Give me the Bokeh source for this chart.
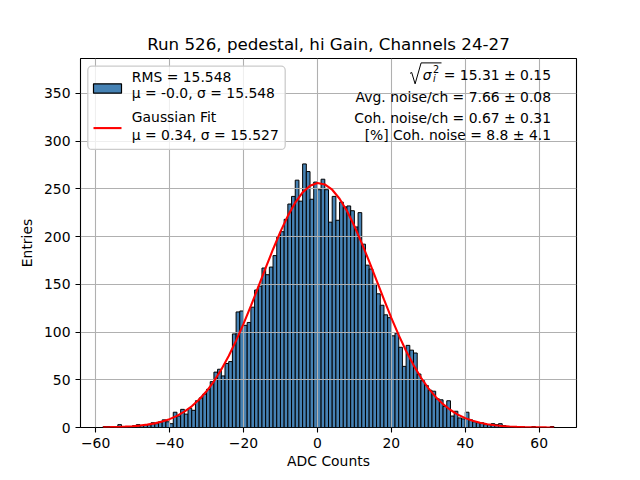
import numpy as np
from bokeh.plotting import figure
from bokeh.models import Range1d, FixedTicker, Label, BoxAnnotation
from bokeh.embed import file_html
from bokeh.resources import INLINE

# ---------------- data ----------------
bin_first_edge = -58
bin_width = 1
counts = [
    1, 1, 0, 1, 3, 1, 1, 1, 2, 3,                       # -58 .. -49
    2, 3, 3, 5, 4, 6, 8, 6, 4, 16,                      # -48 .. -39
    12, 19, 14, 20, 18, 28, 31, 35, 40, 48,             # -38 .. -29
    58, 61, 54, 67, 69, 98, 121, 122, 107, 110,         # -28 .. -19
    126, 144, 148, 167, 160, 168, 180, 200, 205, 218,   # -18 .. -9
    234, 242, 259, 237, 276, 268, 239, 257, 249, 260,   # -8 .. 1
    249, 215, 242, 217, 236, 231, 232, 227, 210, 225,   # 2 .. 11
    192, 170, 166, 150, 140, 128, 118, 115, 96, 99,     # 12 .. 21
    84, 64, 86, 81, 78, 56, 49, 44, 39, 38,             # 22 .. 31
    30, 29, 22, 28, 12, 17, 10, 9, 16, 8,               # 32 .. 41
    6, 5, 5, 3, 3, 4, 3, 4, 2, 1,                       # 42 .. 51
    1, 1, 0, 1, 0, 0, 1, 0, 0, 0, 0, 1,                 # 52 .. 63
]

fit_x = [-58, -56, -54, -52, -50, -48, -46, -44, -42, -40, -38, -36, -34, -32,
         -30, -28, -26, -24, -22, -20, -18, -16, -14, -12, -10, -8, -6, -4, -2,
         0, 2, 4, 6, 8, 10, 12, 14, 16, 18, 20, 22, 24, 26, 28, 30, 32, 34, 36,
         38, 40, 42, 44, 46, 48, 50, 52, 54, 56, 58, 60, 62, 64]
fit_y = [0.22, 0.35, 0.56, 0.87, 1.34, 2.01, 2.98, 4.34, 6.22, 8.76, 12.14,
         16.55, 22.18, 29.25, 37.94, 48.40, 60.72, 74.93, 90.93, 108.55, 127.43,
         147.16, 167.11, 186.67, 205.09, 221.61, 235.52, 246.19, 253.11, 255.94,
         254.54, 248.99, 239.54, 226.67, 210.95, 193.11, 173.85, 153.95, 134.07,
         114.84, 96.75, 80.17, 65.34, 52.38, 41.29, 32.02, 24.41, 18.32, 13.51,
         9.81, 7.00, 4.91, 3.39, 2.30, 1.54, 1.01, 0.65, 0.42, 0.26, 0.16, 0.10,
         0.06]

x_ticks = [-60, -40, -20, 0, 20, 40, 60]
y_ticks = [0, 50, 100, 150, 200, 250, 300, 350]

title_text = "Run 526, pedestal, hi Gain, Channels 24-27"
legend_hist = ["RMS = 15.548", "μ = -0.0, σ = 15.548"]
legend_fit = ["Gaussian Fit", "μ = 0.34, σ = 15.527"]
info_first_value = "= 15.31 ± 0.15"
info_lines = ["Avg. noise/ch = 7.66 ± 0.08",
              "Coh. noise/ch = 0.67 ± 0.31",
              "[%] Coh. noise = 8.8 ± 4.1"]

# ---------------- figure ----------------
FONT = "DejaVu Sans"
FS = "13.9px"
counts_arr = np.array(counts)
edges = bin_first_edge + bin_width * np.arange(len(counts) + 1)

X0, X1 = -64.1, 70.1
Y1 = 1.4 * counts_arr.max()

p = figure(width=640, height=480, x_range=Range1d(X0, X1), y_range=Range1d(0, Y1),
           output_backend="svg", toolbar_location=None, title=title_text,
           min_border_left=80, min_border_right=64, min_border_top=58,
           min_border_bottom=53)
p.background_fill_color = "white"
p.border_fill_color = "white"
p.outline_line_color = "black"
p.outline_line_width = 1.1
p.outline_line_alpha = 1.0

p.title.text_font = FONT
p.title.text_font_size = "16.7px"
p.title.text_font_style = "normal"
p.title.align = "center"
p.title.text_color = "black"
p.title.standoff = 9

p.xaxis.ticker = FixedTicker(ticks=x_ticks)
p.yaxis.ticker = FixedTicker(ticks=y_ticks)
p.xaxis.major_label_overrides = {t: (("\u2212" + str(-t)) if t < 0 else str(t)) for t in x_ticks}
for ax in (p.xaxis, p.yaxis):
    ax.axis_line_color = None
    ax.major_tick_line_color = "black"
    ax.major_tick_line_width = 1.1
    ax.major_tick_out = 5
    ax.major_tick_in = 0
    ax.minor_tick_line_color = None
    ax.major_label_text_font = FONT
    ax.major_label_text_font_size = FS
    ax.major_label_text_color = "black"
    ax.major_label_standoff = 5
    ax.axis_label_text_font = FONT
    ax.axis_label_text_font_size = FS
    ax.axis_label_text_font_style = "normal"
    ax.axis_label_text_color = "black"
p.xaxis.axis_label_standoff = 2
p.yaxis.axis_label_standoff = 6
p.xaxis.axis_label = "ADC Counts"
p.yaxis.axis_label = "Entries"

p.grid.grid_line_color = "#b0b0b0"
p.grid.grid_line_width = 1.1

# histogram bars (below the grid, like matplotlib)
p.quad(left=edges[:-1], right=edges[1:], bottom=0, top=counts_arr,
       fill_color="#4682b4", line_color="black", line_width=1.0, level="image")

# gaussian fit curve
p.line(fit_x, fit_y, line_color="red", line_width=2.1)

# ---------------- annotations (placed by frame pixel position) ----------------
FL, FR, FT, FB = 80.0, 576.0, 57.6, 427.2


def dx(px):
    return X0 + (px - FL) * (X1 - X0) / (FR - FL)


def dy(py):
    return (FB - py) * Y1 / (FB - FT)


# legend box
p.add_layout(BoxAnnotation(left=dx(87.3), right=dx(284.7), bottom=dy(148.7), top=dy(65.3),
                           fill_color="white", fill_alpha=0.8, line_color="#cccccc",
                           line_width=1.3, line_alpha=1.0, border_radius=4))
p.add_layout(BoxAnnotation(left=dx(93), right=dx(121), bottom=dy(92.3), top=dy(83),
                           fill_color="#4682b4", fill_alpha=1.0, line_color="black",
                           line_width=1.2, line_alpha=1.0))
p.segment(x0=[dx(93)], y0=[dy(127.3)], x1=[dx(121)], y1=[dy(127.3)],
          line_color="red", line_width=2.1, level="overlay")

for txt, py in zip(legend_hist + legend_fit, [76.3, 92.5, 116.3, 134.0]):
    p.add_layout(Label(x=dx(131.3), y=dy(py), text=txt, text_font=FONT,
                       text_font_size=FS, text_baseline="middle", text_align="left",
                       text_color="black"))

# info text block (top right)
p.add_layout(Label(x=dx(550.5), y=dy(73.7), text=info_first_value, text_font=FONT,
                   text_font_size=FS, text_baseline="middle", text_align="right",
                   text_color="black"))
p.add_layout(Label(x=dx(426.7), y=dy(74.5), text="σ", text_font=FONT,
                   text_font_size=FS, text_font_style="italic",
                   text_baseline="middle", text_align="center", text_color="black"))
p.add_layout(Label(x=dx(432.6), y=dy(68.3), text="2", text_font=FONT,
                   text_font_size="9.7px", text_baseline="middle", text_align="left",
                   text_color="black"))
p.add_layout(Label(x=dx(432.6), y=dy(77.8), text="i", text_font=FONT,
                   text_font_size="9.7px", text_font_style="italic",
                   text_baseline="middle", text_align="left", text_color="black"))
rad_px = [409.5, 411.2, 414.6, 420.6, 441.0]
rad_py = [72.5, 71.6, 83.0, 62.0, 62.0]
p.line([dx(v) for v in rad_px], [dy(v) for v in rad_py], line_color="black",
       line_width=1.0, level="overlay")

for txt, py in zip(info_lines, [96.3, 117.3, 134.0]):
    p.add_layout(Label(x=dx(550.5), y=dy(py), text=txt, text_font=FONT,
                       text_font_size=FS, text_baseline="middle", text_align="right",
                       text_color="black"))

open("out.html", "w").write(file_html(p, INLINE))
